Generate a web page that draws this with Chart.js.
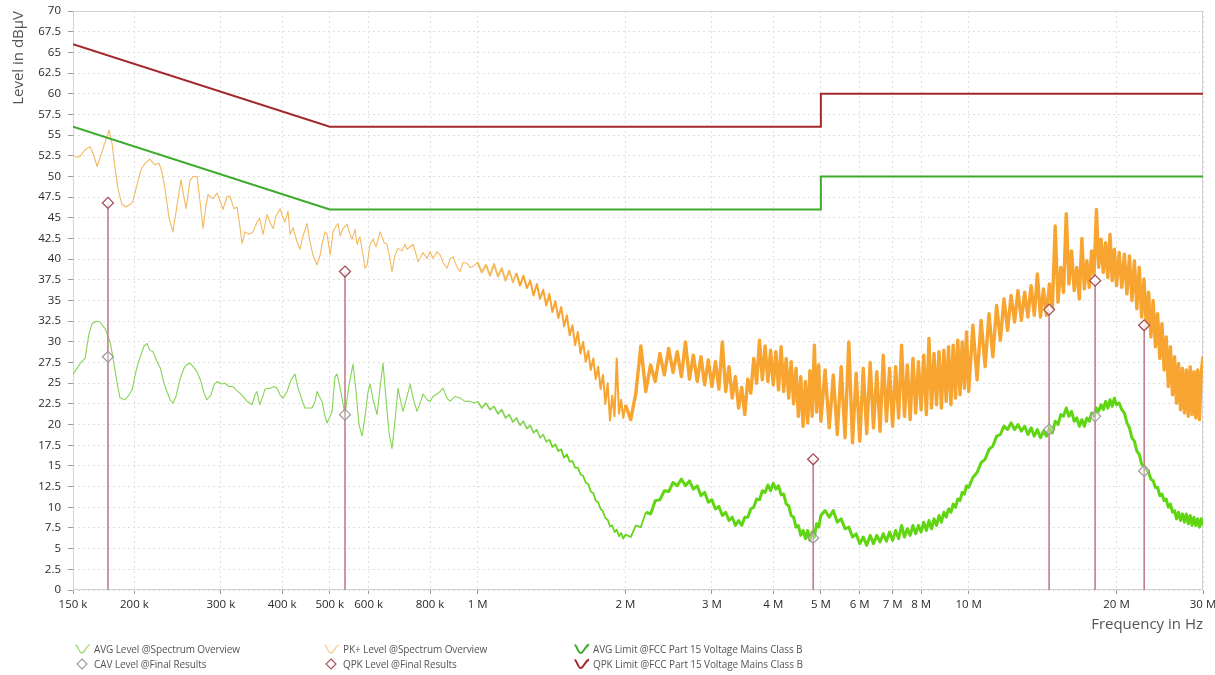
<!DOCTYPE html>
<html><head><meta charset="utf-8">
<script src="https://cdn.jsdelivr.net/npm/chart.js@4.4.1/dist/chart.umd.min.js"></script>
<style>
html,body{margin:0;padding:0;background:#fff;}
#wrap{position:relative;width:1215px;height:675px;overflow:hidden;background:#fff;}
canvas{position:absolute;left:0;top:0;}
.lg{position:absolute;font-family:"Open Sans",sans-serif;font-size:10px;color:#555;white-space:nowrap;line-height:12px;display:flex;align-items:center;letter-spacing:-0.1px;}
.lg svg{margin-right:2px;}
</style></head><body>
<div id="wrap">
<canvas id="c" width="1215" height="675"></canvas>
<div class="lg" style="left:74px;top:643px"><svg width="18" height="12"><path d="M1.5 2 C4 2 5 10.5 8 10 S12 3 16 1.5" stroke="#9ddc6e" stroke-width="1.3" fill="none"/></svg>AVG Level @Spectrum Overview</div>
<div class="lg" style="left:74px;top:658px"><svg width="18" height="12"><polygon points="8,1 13,6 8,11 3,6" stroke="#9a9a9a" stroke-width="1.1" fill="#fff"/></svg>CAV Level @Final Results</div>
<div class="lg" style="left:323px;top:643px"><svg width="18" height="12"><path d="M1.5 2 C4 2 5 10.5 8 10 S12 3 16 1.5" stroke="#f6cf90" stroke-width="1.3" fill="none"/></svg>PK+ Level @Spectrum Overview</div>
<div class="lg" style="left:323px;top:658px"><svg width="18" height="12"><polygon points="8,1 13,6 8,11 3,6" stroke="#a24d5a" stroke-width="1.1" fill="#fff"/></svg>QPK Level @Final Results</div>
<div class="lg" style="left:573px;top:643px"><svg width="18" height="12"><path d="M1.5 2 C4 2 5 10.5 8 10 S12 3 16 1.5" stroke="#3daa2c" stroke-width="2" fill="none"/></svg>AVG Limit @FCC Part 15 Voltage Mains Class B</div>
<div class="lg" style="left:573px;top:658px"><svg width="18" height="12"><path d="M1.5 2 C4 2 5 10.5 8 10 S12 3 16 1.5" stroke="#a3282b" stroke-width="2" fill="none"/></svg>QPK Limit @FCC Part 15 Voltage Mains Class B</div>
</div>
<script>
// ---------- DATA (frequencies in kHz, levels in dBµV) ----------
const xTickK = [150,200,300,400,500,600,800,1000,2000,3000,4000,5000,6000,7000,8000,10000,20000,30000];
const xTickLabels = ['150 k','200 k','300 k','400 k','500 k','600 k','800 k','1 M','2 M','3 M','4 M','5 M','6 M','7 M','8 M','10 M','20 M','30 M'];
const yTicks = [0,2.5,5,7.5,10,12.5,15,17.5,20,22.5,25,27.5,30,32.5,35,37.5,40,42.5,45,47.5,50,52.5,55,57.5,60,62.5,65,67.5,70];

const qpkLimitFreqK = [150,500,5000,5000,30000];
const qpkLimit      = [66,56,56,60,60];
const avgLimitFreqK = [150,500,5000,5000,30000];
const avgLimit      = [56,46,46,50,50];

const finalFreqK = [176.7,537,4823,14580,18090,22770];
const qpkFinal   = [46.8,38.5,15.8,33.9,37.4,32.0];
const cavFinal   = [28.2,21.2,6.3,19.4,21.0,14.4];

const pkEarlyFreqK = [150,152.8,155,158.7,162.5,165.5,167.9,171.9,175.1,177.6,180.1,182.7,185.2,188.8,192.3,196,198.7,202.5,206.3,210.3,
215,220.3,224.5,227.7,230.9,235.3,239.7,244.3,248.9,252.4,254.8,259.6,263.3,268.3,272.1,276,279.9,282.5,289.2,294.7,
299,303.1,308.8,313,319.1,323.7,328,331.4,336,342.4,349,355.5,360,365.6,372.6,378,383.2,388.6,396,401.6,
405.3,411.1,415,420.9,428.8,435,441,449.4,456,462.2,471,478,482.1,489,493.6,501,507.7,514.8,519.7,525,
532,542.1,550,555,562.9,568.2,576,584.4,589.9,595.4,604,612.5,621.2,633,644.9,654,663,669.5,679,688.6,
701.6,711.6,718.3,729,738.8,749.3,756.3,764,774.3,788.9,800,811.5,826.8,839,850.4,866.5,879,891.2,908.1,921,
934,951.7,965,978.9];
const pkEarlyLevel = [52.6,52.3,52.4,53.2,53.6,52.5,51.2,53.0,54.5,55.6,54.0,51.0,48.5,46.6,46.3,46.6,47.0,49.0,50.8,51.6,
52.1,51.4,51.6,50.5,48.5,45.0,43.3,46.5,49.6,47.5,46.1,49.5,50.0,50.0,47.0,43.7,46.5,47.8,47.3,48.0,
47.0,46.0,47.6,47.6,46.1,46.3,44.0,41.9,43.3,43.0,43.3,44.5,44.9,43.0,45.4,44.4,43.7,45.2,46.1,45.0,
44.5,45.8,43.0,43.8,42.1,41.2,42.8,44.3,42.0,40.5,39.3,40.5,41.8,43.3,43.0,40.5,43.3,44.0,44.3,42.8,
43.7,44.2,43.0,42.4,43.6,41.8,42.7,40.5,38.9,39.3,41.8,42.4,41.5,43.3,42.0,41.8,40.0,38.5,40.5,41.3,
41.0,41.8,41.2,41.5,41.8,40.6,39.7,40.1,40.8,40.1,40.9,40.1,40.9,40.5,39.6,38.9,40.0,40.3,39.0,38.5,
39.6,39.5,39.0,39.1];

const avgEarlyFreqK = [150,152.8,155.7,158.7,161.7,164,167.1,170.2,174.3,178.5,181,183.5,187,191.4,195.1,197.9,201.6,205,209.3,212.3,
215,218.3,222.5,226,229.8,233.1,236.5,239.7,243.1,248,252.4,256,260,263.3,268.3,273.4,277.2,281.2,286.5,290.6,
294.7,300.3,305.9,311.7,317.6,322.1,328,332.9,339.2,344,347.2,352.2,355.5,360,365.6,369.1,378,385,390.5,396,
401.6,409.2,416.9,424.8,430.8,435,441,445.2,453.6,460.1,466.6,471,478,482.1,489,493.6,501,505.3,512.4,517.3,
525,532,537,547.2,557.6,565.5,573.5,581.6,589.9,598.3,604,612.5,624.1,633,641.9,651,660.2,669.5,679,688.6,
695,704.9,718.3,729,738.8,752.8,764,774.3,788.9,800,811.5,826.8,839,850.4,866.5,879,899.7,921,942.8,965,
983.5];
const avgEarlyLevel = [26.1,26.8,27.5,28.0,31.0,32.2,32.5,32.4,31.6,30.0,28.0,25.8,23.2,23.0,23.6,24.2,26.5,28.0,29.5,29.8,
29.0,28.8,27.6,26.8,25.0,24.0,23.0,22.6,23.4,25.6,26.8,27.3,27.4,27.0,26.4,25.2,23.8,23.0,23.6,24.8,
25.2,24.9,25.0,24.6,24.6,24.2,23.8,23.4,22.8,22.6,22.4,23.6,24.0,22.4,23.5,24.3,24.4,24.6,24.4,23.6,
23.2,24.0,25.4,26.1,24.4,23.7,22.6,22.0,22.0,22.0,22.8,24.0,23.2,22.8,21.0,20.2,21.0,21.6,25.8,26.1,
24.4,22.5,21.2,24.8,27.3,24.0,20.0,18.6,21.0,24.0,24.9,23.0,21.2,24.5,27.4,23.0,19.0,17.1,20.5,24.4,
23.2,21.6,23.4,24.9,23.2,21.6,22.6,23.7,23.0,22.8,23.4,23.7,24.0,24.4,23.2,22.8,23.4,23.2,22.8,22.8,
22.6];

// dense sweep section (1 MHz - 30 MHz), shared frequency grid
const denseFreqK = [
1000,1020,1040,1060,1080,1100,1120,1140,1160,1180,1200,1220,1240,1260,1280,1300,1320,1340,1360,1380,
1400,1420,1440,1460,1480,1500,1520,1540,1560,1580,1600,1620,1640,1660,1680,1700,1720,1740,1760,1780,
1800,1820,1840,1860,1880,1900,1920,1940,1960,1980,2000,
2050,2100,2150,2200,2250,2300,2350,2400,2450,2500,2550,2600,2650,2700,2750,2800,2850,2900,2950,3000,
3050,3100,3150,3200,3250,3300,3350,3400,3450,3500,3550,3600,3650,3700,3750,3800,3850,3900,3950,4000,
4050,4100,4150,4200,4250,4300,4350,4400,4450,4500,4550,4600,4650,4700,4750,4800,4850,4900,4950,5000,
5100,5200,5300,5400,5500,5600,5700,5800,5900,6000,6100,6200,6300,6400,6500,6600,6700,6800,6900,7000,
7100,7200,7300,7400,7500,7600,7700,7800,7900,8000,8100,8200,8300,8400,8500,8600,8700,8800,8900,9000,
9100,9200,9300,9400,9500,9600,9700,9800,9900,10000,
10200,10400,10600,10800,11000,11200,11400,11600,11800,12000,12200,12400,12600,12800,13000,13200,13400,13600,13800,14000,
14200,14400,14600,14800,15000,15200,15400,15600,15800,16000,16200,16400,16600,16800,17000,17200,17400,17600,17800,18000,
18200,18400,18600,18800,19000,19200,19400,19600,19800,20000,
20250,20500,20750,21000,21250,21500,21750,22000,22250,22500,22750,23000,23250,23500,23750,24000,24250,24500,24750,25000,
25250,25500,25750,26000,26250,26500,26750,27000,27250,27500,27750,28000,28250,28500,28750,29000,29250,29500,29750,30000];

const pkDense = [
39.6,38.4,39.3,38.0,39.4,37.9,38.9,37.4,38.6,37.2,38.3,36.8,38.0,36.5,37.4,35.6,37.0,35.2,36.3,34.4,
35.8,33.6,34.9,32.9,34.2,31.9,33.2,30.8,32.0,29.6,31.2,28.6,30.0,27.6,28.9,26.6,28.0,25.5,27.0,24.3,
26.0,22.5,25.0,20.5,23.5,21.0,28.0,21.3,23.0,20.8,22.4,
20.6,23.8,29.5,24.0,27.2,25.2,28.6,26.0,29.2,26.3,28.8,25.8,30.0,25.5,28.4,25.2,28.2,24.8,27.8,24.6,
27.6,24.3,30.0,24.0,27.0,23.2,25.8,22.0,24.5,21.2,25.5,23.8,28.0,25.0,30.2,25.4,29.5,25.2,29.0,24.8,
28.8,24.2,29.4,24.0,28.0,23.2,27.6,22.5,26.8,21.0,25.8,19.8,25.2,20.2,26.5,21.0,29.6,21.5,27.2,20.4,
26.6,19.6,26.0,18.8,27.0,18.4,30.0,17.8,26.2,18.0,26.8,18.9,27.5,19.6,26.4,19.2,28.4,20.4,26.8,19.8,
27.0,20.8,29.6,21.0,27.2,20.6,28.0,21.4,27.6,21.8,28.4,21.2,30.4,22.0,28.6,22.4,28.8,22.0,29.0,22.8,
29.4,22.4,29.6,23.2,30.2,23.6,30.0,24.4,31.2,24.0,
32.0,25.4,32.6,27.0,33.4,28.2,34.4,30.2,35.2,31.4,35.6,32.4,36.2,32.6,36.0,33.0,36.8,33.2,38.2,33.0,
36.4,33.2,37.0,34.0,44.0,34.8,39.0,36.0,45.5,37.0,41.0,36.2,39.0,35.2,42.5,36.4,39.8,36.6,41.0,38.0,
46.0,39.0,42.4,38.4,42.0,37.8,43.0,37.4,41.2,36.8,
40.8,36.6,40.6,35.8,40.4,35.0,39.8,34.0,39.0,33.0,37.6,31.8,36.0,30.6,35.0,29.4,33.4,28.0,32.2,26.6,
30.6,24.6,29.4,23.6,28.2,22.6,27.4,21.8,26.8,21.4,26.6,21.0,27.0,21.2,26.4,20.8,26.6,20.6,26.2,28.2];

const avgDense = [
22.8,22.0,22.6,21.8,22.2,21.3,21.8,20.8,21.2,20.3,20.8,19.9,20.4,19.5,19.9,19.0,19.4,18.4,18.8,17.9,
18.2,17.3,17.6,16.8,17.0,16.0,16.4,15.5,15.6,14.8,14.8,14.0,13.8,13.0,12.8,11.9,11.7,10.8,10.6,9.8,
9.5,8.7,8.5,7.7,7.8,7.0,7.3,6.5,6.9,6.2,6.7,
6.4,7.8,7.6,9.4,9.2,10.8,10.9,12.0,11.9,13.0,12.6,13.4,12.6,13.2,12.2,12.6,11.4,11.8,10.6,10.9,
9.8,10.1,9.0,9.4,8.4,8.8,7.8,8.4,7.8,8.8,8.8,9.8,10.0,11.0,10.9,12.0,11.8,12.7,12.0,12.9,
12.2,12.6,11.5,11.6,10.4,10.2,9.0,8.8,7.6,7.8,6.6,7.2,6.2,7.2,6.0,7.0,6.4,8.0,7.6,9.0,
9.6,8.8,9.6,8.2,8.6,7.4,7.6,6.4,6.8,5.6,6.4,5.4,6.6,5.6,6.6,5.8,6.8,5.9,7.0,6.0,
7.2,6.2,7.8,6.4,7.4,6.6,7.8,6.8,7.8,7.0,8.2,7.2,8.4,7.4,8.6,7.8,9.0,8.2,9.4,8.8,
9.8,9.4,10.4,10.0,11.0,10.8,11.8,11.6,12.6,12.4,
13.6,14.2,15.4,15.8,17.0,17.4,18.6,18.8,19.8,19.4,20.2,19.4,20.0,19.2,19.8,18.8,19.6,18.6,19.4,18.4,
19.2,18.6,19.6,19.0,20.4,20.0,21.2,21.0,22.0,21.0,21.6,20.4,20.8,19.8,20.6,19.8,20.8,20.4,21.4,21.0,
22.0,21.6,22.4,21.8,22.8,22.0,23.0,22.2,23.2,22.4,
22.6,21.8,21.4,20.2,19.6,18.4,18.0,16.8,16.4,15.2,15.0,14.6,14.2,13.4,13.2,12.4,12.4,11.4,11.6,10.8,
11.0,10.0,10.4,9.4,9.6,8.6,9.4,8.4,9.2,8.2,9.2,8.0,9.0,7.8,8.8,7.8,8.6,7.6,8.6,7.8];

// ---------- BUILD ----------
const toPts = (fs, vs) => fs.map((f, i) => ({ x: f * 1000, y: vs[i] }));
const pkPts  = toPts(pkEarlyFreqK, pkEarlyLevel).concat(toPts(denseFreqK, pkDense));
const avgPts = toPts(avgEarlyFreqK, avgEarlyLevel).concat(toPts(denseFreqK, avgDense));
const stemPts = [];
finalFreqK.forEach((f, i) => { stemPts.push({x: f*1000, y: 0}, {x: f*1000, y: qpkFinal[i]}, {x: f*1000, y: null}); });

const FONT = '"Open Sans", "DejaVu Sans", sans-serif';

const framePlugin = {
  id: 'frame',
  beforeDatasetsDraw(chart) {
    const { ctx, chartArea: a } = chart;
    ctx.save();
    ctx.strokeStyle = '#d2d2d2';
    ctx.lineWidth = 1;
    ctx.strokeRect(a.left + 0.5, a.top + 0.5, a.right - a.left - 1, a.bottom - a.top - 1);
    ctx.restore();
  }
};

// segment styling: thin pale trace for the slow low-frequency part, dense band above 1 MHz
const pkSeg = {
  borderWidth: c => c.p0.parsed.x >= 2.0e6 ? 3.4 : (c.p0.parsed.x >= 1e6 ? 2.0 : 1.1),
  borderColor: c => c.p0.parsed.x >= 1.2e6 ? '#f7a530' : '#f3b95f'
};
const avgSeg = {
  borderWidth: c => c.p0.parsed.x >= 2.2e6 ? 3.0 : (c.p0.parsed.x >= 1e6 ? 1.7 : 1.1),
  borderColor: c => c.p0.parsed.x >= 1.4e6 ? '#5fd611' : '#86d455'
};

new Chart(document.getElementById('c'), {
  type: 'line',
  data: {
    datasets: [
      { label: 'QPK Level @Final Results', data: toPts(finalFreqK, qpkFinal), showLine: false,
        pointStyle: 'rectRot', pointRadius: 5.5, pointBorderWidth: 1.3,
        pointBorderColor: '#a24d5a', pointBackgroundColor: 'rgba(255,255,255,0.75)', order: 0 },
      { label: 'CAV Level @Final Results', data: toPts(finalFreqK, cavFinal), showLine: false,
        pointStyle: 'rectRot', pointRadius: 5.5, pointBorderWidth: 1.2,
        pointBorderColor: '#9a9a9a', pointBackgroundColor: 'rgba(255,255,255,0.3)', order: 0 },
      { label: 'stems', data: stemPts, borderColor: '#c27e8a', borderWidth: 1.6, pointRadius: 0, spanGaps: false, order: 1 },
      { label: 'QPK Limit @FCC Part 15 Voltage Mains Class B', data: toPts(qpkLimitFreqK, qpkLimit),
        borderColor: '#a3282b', borderWidth: 2, pointRadius: 0, order: 2 },
      { label: 'AVG Limit @FCC Part 15 Voltage Mains Class B', data: toPts(avgLimitFreqK, avgLimit),
        borderColor: '#3daa2c', borderWidth: 2, pointRadius: 0, order: 2 },
      { label: 'AVG Level @Spectrum Overview', data: avgPts, borderColor: '#62d21a', borderWidth: 1.3, pointRadius: 0,
        borderJoinStyle: 'round', order: 3, segment: avgSeg },
      { label: 'PK+ Level @Spectrum Overview', data: pkPts, borderColor: '#f6a534', borderWidth: 1.2, pointRadius: 0,
        borderJoinStyle: 'round', order: 4, segment: pkSeg }
    ]
  },
  options: {
    responsive: false,
    animation: false,
    devicePixelRatio: 1,
    layout: { padding: { left: 0, right: 12, top: 11, bottom: 41 } },
    elements: { line: { tension: 0 }, point: { radius: 0, hitRadius: 0 } },
    plugins: { legend: { display: false }, tooltip: { enabled: false } },
    scales: {
      x: {
        type: 'logarithmic', min: 150000, max: 30000000,
        afterBuildTicks: s => { s.ticks = xTickK.map(v => ({ value: v * 1000 })); },
        afterFit: s => { s.height = 44; s.paddingLeft = 0; s.paddingRight = 0; },
        ticks: { autoSkip: false, maxRotation: 0, padding: 4, color: '#2a2a2a',
          font: { family: FONT, size: 11.5 },
          callback: (v, i) => xTickLabels[i] },
        grid: { color: '#e0e0e0', lineWidth: 1, drawTicks: true, tickLength: 4, tickColor: '#999' },
        border: { display: false, dash: [2, 3] },
        title: { display: true, text: 'Frequency in Hz', align: 'end', color: '#555',
          font: { family: FONT, size: 15 }, padding: { top: 0, bottom: 0 } }
      },
      y: {
        min: 0, max: 70,
        afterBuildTicks: s => { s.ticks = yTicks.map(v => ({ value: v })); },
        afterFit: s => { s.width = 73; s.paddingTop = 0; s.paddingBottom = 0; },
        ticks: { autoSkip: false, padding: 7, color: '#2a2a2a', font: { family: FONT, size: 11.5 },
          callback: (v, i) => String(yTicks[i]) },
        grid: { color: '#e0e0e0', lineWidth: 1, drawTicks: true, tickLength: 5, tickColor: '#999' },
        border: { display: false, dash: [2, 3] },
        title: { display: true, text: 'Level in dBµV', align: 'end', color: '#555',
          font: { family: FONT, size: 15 }, padding: { top: 10, bottom: 2 } }
      }
    }
  },
  plugins: [framePlugin]
});
</script>
</body></html>
